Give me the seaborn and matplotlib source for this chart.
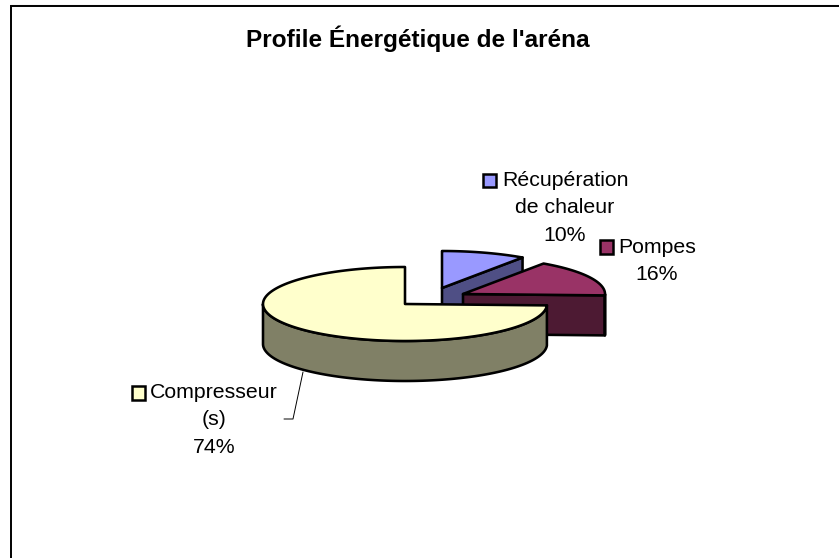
import numpy as np
import matplotlib
matplotlib.use("Agg")
import matplotlib.pyplot as plt
from matplotlib.patches import Polygon, Rectangle
import seaborn as sns

title = "Profile Énergétique de l'aréna"
labels = ["Récupération\nde chaleur", "Pompes", "Compresseur\n(s)"]
shares = [9.6, 16.0, 74.4]
top_colors = ["#9999FF", "#993366", "#FFFFCC"]
side_colors = ["#4F4F85", "#4D1A33", "#808066"]

apexes = [(442, 288), (463, 294), (405, 304)]
RX, RY, DEPTH = 142, 37, 40
label_xy = [(565, 186), (657, 253), (214, 398)]
key_xy = [(482.5, 173.5), (599.5, 240), (131.5, 386)]
KEY = 13.5
LH = 27.4

sns.set_theme(style="white")
plt.rcParams["font.family"] = ["Liberation Sans", "DejaVu Sans"]

fig = plt.figure(figsize=(8.39, 5.58), dpi=100, facecolor="white")
ax = fig.add_axes([0, 0, 1, 1])
ax.set_xlim(0, 839)
ax.set_ylim(558, 0)
ax.axis("off")


def rim(ap, deg):
    t = np.radians(deg)
    return np.column_stack([ap[0] + RX * np.sin(t), ap[1] - RY * np.cos(t)])


LW = 1.85
style = dict(edgecolor="black", linewidth=LW, joinstyle="round")

# leader line
ax.plot([303, 293, 284], [372, 419, 419], color="black", lw=0.7, zorder=1)

edges = np.cumsum([0] + shares) * 3.6
for i, share in enumerate(shares):
    ap = apexes[i]
    a0, a1 = edges[i], edges[i + 1]
    z = 2 + i
    arc = rim(ap, np.linspace(a0, a1, 200))
    # cut face at the end of the slice, when turned to the viewer
    if a1 < 270:
        end = arc[-1]
        face = [ap, end, (end[0], end[1] + DEPTH), (ap[0], ap[1] + DEPTH)]
        ax.add_patch(Polygon(face, closed=True, facecolor=side_colors[i], zorder=z, **style))
    # outer wall
    lo, hi = max(a0, 90), min(a1, 270)
    if hi > lo:
        wall = rim(ap, np.linspace(lo, hi, 200))
        low = wall + [0, DEPTH]
        ax.add_patch(Polygon(np.vstack([wall, low[::-1]]), closed=True,
                             facecolor=side_colors[i], zorder=z, **style))
    # top face
    ax.add_patch(Polygon(np.vstack([[ap], arc]), closed=True,
                         facecolor=top_colors[i], zorder=z, **style))

# labels with keys
for lab, share, (x, y), (kx, ky), col in zip(labels, shares, label_xy, key_xy, top_colors):
    for j, line in enumerate((lab + f"\n{share:.0f}%").split("\n")):
        ax.text(x, y + j * LH, line, ha="center", va="baseline", fontsize=15.3, color="black", zorder=10)
    ax.add_patch(Rectangle((kx, ky), KEY, KEY, facecolor=col, edgecolor="black", linewidth=1.8, zorder=10))

ax.text(418, 47, title, ha="center", va="baseline", fontsize=17.55, fontweight="bold", color="black")

# chart frame: only the top and left edges show
ax.plot([10, 839], [4.5, 4.5], color="#A0A0A0", lw=0.8, zorder=0)
ax.plot([839, 10.5, 10.5], [5.5, 5.5, 558], color="black", lw=1.4, zorder=0, solid_joinstyle="miter")

fig.savefig("out.png", dpi=100, facecolor="white")
